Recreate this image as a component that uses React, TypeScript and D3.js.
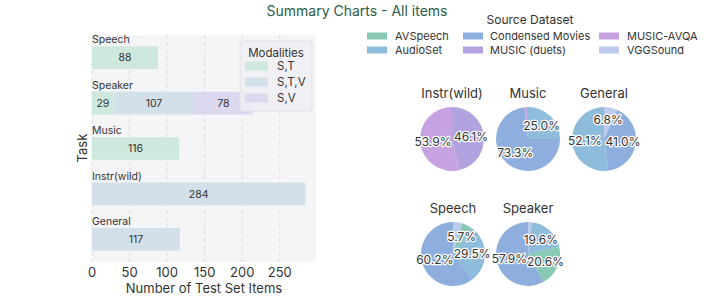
import * as d3 from 'd3';
import { useEffect } from 'react';

// bar chart data
const tasks = ['Speech', 'Speaker', 'Music', 'Instr(wild)', 'General'];
const modalities = ['S,T', 'S,T,V', 'S,V'];
const stValues = [88, 29, 116, 0, 0];
const stvValues = [0, 107, 0, 284, 117];
const svValues = [0, 78, 0, 0, 0];
const modColors = ['#cfe8de', '#d2e0ea', '#dcd8ee'];
const xTicks = [0, 50, 100, 150, 200, 250];

// pie data (clockwise from 12 o'clock)
const datasets = ['AVSpeech', 'AudioSet', 'Condensed Movies', 'MUSIC (duets)', 'MUSIC-AVQA', 'VGGSound'];
const dsColors = ['#88c9b5', '#8ebcdb', '#8eaede', '#b2a3e0', '#c6a2e0', '#bccbee'];
const pieTasks = ['Instr(wild)', 'Music', 'General', 'Speech', 'Speaker'];
const instrSlices: [string, number][] = [['MUSIC (duets)', 131], ['MUSIC-AVQA', 153]];
const musicSlices: [string, number][] = [['AudioSet', 29], ['Condensed Movies', 85], ['MUSIC-AVQA', 2]];
const generalSlices: [string, number][] = [['VGGSound', 8], ['Condensed Movies', 48], ['AudioSet', 61]];
const speechSlices: [string, number][] = [['VGGSound', 4], ['AVSpeech', 5], ['AudioSet', 26], ['Condensed Movies', 53]];
const speakerSlices: [string, number][] = [['VGGSound', 4], ['AudioSet', 42], ['AVSpeech', 44], ['Condensed Movies', 124]];
const pieSlices = [instrSlices, musicSlices, generalSlices, speechSlices, speakerSlices];

const FONT = 'Inter, "DejaVu Sans", sans-serif';

const App = () => {
  useEffect(() => {
    document.body.style.margin = '0';
  }, []);

  const x = d3.scaleLinear().domain([0, 284 * 1.05]).range([92, 316]);
  const y = d3.scaleBand().domain(tasks).range([35, 262]).paddingInner(0.5).paddingOuter(0.25);

  const rows = tasks.map((t, i) => ({ task: t, 'S,T': stValues[i], 'S,T,V': stvValues[i], 'S,V': svValues[i] }));
  const stack = d3.stack<any>().keys(modalities)(rows);

  const color = d3.scaleOrdinal<string, string>().domain(datasets).range(dsColors);
  const pie = d3.pie<[string, number]>().value(d => d[1]).sort(null);
  const arc = d3.arc<d3.PieArcDatum<[string, number]>>().innerRadius(0).outerRadius(32);
  const pieCx = [452, 528, 604, 453, 528];
  const pieCy = [139, 139, 139, 254, 254];

  return (
    <svg width={714} height={297} style={{ display: 'block', fontFamily: FONT }}>
      <rect width={714} height={297} fill="#fff" />
      <text x={357} y={16} textAnchor="middle" fontSize={14} fill="#2b5d4c">Summary Charts - All items</text>

      {/* bar panel */}
      <rect x={92} y={35} width={224} height={227} fill="#f5f5f8" />
      {xTicks.map(t => (
        <g key={t}>
          <line x1={x(t)} x2={x(t)} y1={35} y2={262} stroke="#d4d4d8" strokeDasharray="4,3" strokeWidth={0.8} />
          <text x={x(t)} y={277} textAnchor="middle" fontSize={13} fill="#333">{t}</text>
        </g>
      ))}
      {stack.map((layer, li) => layer.map((seg, i) => {
        const w = x(seg[1]) - x(seg[0]);
        if (w <= 0) return null;
        return (
          <g key={`${li}-${i}`}>
            <rect x={x(seg[0])} y={y(tasks[i])} width={w} height={y.bandwidth()} fill={modColors[li]} />
            <text x={(x(seg[0]) + x(seg[1])) / 2} y={y(tasks[i])! + y.bandwidth() / 2} dy="0.35em"
              textAnchor="middle" fontSize={10.5} fill="#333">{seg[1] - seg[0]}</text>
          </g>
        );
      }))}
      {tasks.map(t => (
        <text key={t} x={92} y={y(t)! - 3} fontSize={10.5} fill="#333">{t}</text>
      ))}
      <text x={204} y={293} textAnchor="middle" fontSize={13} fill="#333">Number of Test Set Items</text>
      <text transform="translate(87,148) rotate(-90)" textAnchor="middle" fontSize={13} fill="#333">Task</text>

      {/* modalities legend */}
      <rect x={240} y={41} width={72} height={70} rx={3} fill="#f0f0f4" fillOpacity={0.85} stroke="#e0e0e4" />
      <text x={276} y={57} textAnchor="middle" fontSize={11.5} fill="#333">Modalities</text>
      {modalities.map((m, i) => (
        <g key={m} transform={`translate(245,${66 + i * 16})`}>
          <rect x={0} y={-4.5} width={23} height={9} fill={modColors[i]} />
          <text x={32} y={0} dy="0.35em" fontSize={11.5} fill="#333">{m}</text>
        </g>
      ))}

      {/* source dataset legend */}
      <text x={530} y={24} textAnchor="middle" fontSize={12} fill="#333">Source Dataset</text>
      {datasets.map((d, i) => {
        const col = Math.floor(i / 2);
        const row = i % 2;
        const sx = [367, 463, 599][col];
        return (
          <g key={d} transform={`translate(${sx},${36 + row * 14})`}>
            <rect x={0} y={-3.5} width={20} height={7} fill={dsColors[i]} />
            <text x={col === 1 ? 27 : 28} y={0} dy="0.35em" fontSize={11} fill="#333">{d}</text>
          </g>
        );
      })}

      {/* pies */}
      {pieSlices.map((slices, pi) => {
        const total = d3.sum(slices, s => s[1]);
        const arcs = pie(slices);
        return (
          <g key={pieTasks[pi]} transform={`translate(${pieCx[pi]},${pieCy[pi]})`}>
            <text x={0} y={-41} textAnchor="middle" fontSize={13} fill="#333">{pieTasks[pi]}</text>
            {arcs.map(a => (
              <path key={a.data[0]} d={arc(a)!} fill={color(a.data[0])} />
            ))}
            {arcs.map(a => {
              const pct = (a.data[1] / total) * 100;
              if (pct < 5) return null;
              const mid = (a.startAngle + a.endAngle) / 2;
              const r = 32 * 0.6;
              return (
                <text key={a.data[0]} x={Math.sin(mid) * r} y={-Math.cos(mid) * r} dy="0.35em"
                  textAnchor="middle" fontSize={12} fill="#333" stroke="#fff" strokeWidth={2.5}
                  paintOrder="stroke" strokeLinejoin="round">{pct.toFixed(1)}%</text>
              );
            })}
          </g>
        );
      })}
    </svg>
  );
};

export default App;
